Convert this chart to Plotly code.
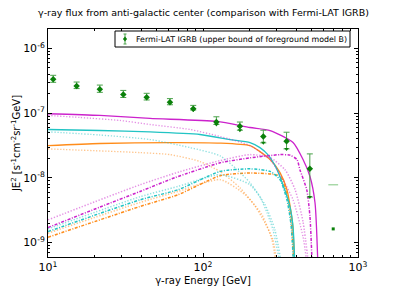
import plotly.graph_objects as go

# ---------------- data ----------------
# Fermi-LAT IGRB points
igrb_E = [10.8, 15.3, 21.6, 30.6, 43.3, 61.2, 86.5, 122, 173, 245, 346, 489]
igrb_F = [3.34e-7, 2.63e-7, 2.34e-7, 1.95e-7, 1.77e-7, 1.48e-7, 1.17e-7, 7.3e-8, 6.3e-8, 4.36e-8, 3.69e-8, 1.39e-8]
igrb_hi = [3.85e-7, 3.03e-7, 2.72e-7, 2.25e-7, 2.03e-7, 1.68e-7, 1.32e-7, 8.8e-8, 7.3e-8, 5.46e-8, 5.08e-8, 2.35e-8]
igrb_lo = [3.0e-7, 2.4e-7, 2.1e-7, 1.75e-7, 1.6e-7, 1.35e-7, 1.12e-7, 6.7e-8, 5.46e-8, 3.48e-8, 2.81e-8, 5.06e-9]
igrb_last_E = [692]
igrb_last_F = [1.63e-9]
igrb_last_cap = [7.85e-9]
legend_label = "Fermi-LAT IGRB (upper bound of foreground model B)"

# magenta model
mag_solid_E = [10, 21.6, 45.5, 123, 201, 271, 381, 442, 490, 528, 552]
mag_solid_F = [9.8e-8, 9.23e-8, 8.29e-8, 7.45e-8, 6.01e-8, 5.4e-8, 3.52e-8, 1.92e-8, 1.05e-8, 4.13e-9, 4e-10]
mag_sdot_E = [10, 16.1, 29.2, 45.5, 82.4, 129, 201, 271, 328, 381, 442, 472]
mag_sdot_F = [9.23e-8, 8.59e-8, 7.72e-8, 6.69e-8, 5.6e-8, 4.36e-8, 3.16e-8, 1.92e-8, 9.4e-9, 4.59e-9, 1.23e-9, 4e-10]
mag_rise_E = [10, 21.6, 39.3, 65.9, 129, 201, 314, 364, 404, 422, 467, 490, 507]
mag_rise_F = [1.71e-9, 3.54e-9, 6.18e-9, 1.01e-8, 1.71e-8, 2.04e-8, 2.29e-8, 2.25e-8, 1.92e-8, 1.34e-8, 6.57e-9, 2.51e-9, 4e-10]
mag_rdot_E = [10, 39.3, 71.1, 129, 201, 271, 338, 393, 442, 483]
mag_rdot_F = [2.25e-9, 7.85e-9, 1.25e-8, 1.85e-8, 2.29e-8, 2.06e-8, 1.34e-8, 6.57e-9, 2.09e-9, 4e-10]

# cyan model
cya_solid_E = [10, 21.6, 45.5, 95.7, 149, 201, 233, 262, 296, 328, 364, 381, 392]
cya_solid_F = [5.6e-8, 5.4e-8, 5.15e-8, 4.69e-8, 3.92e-8, 3.52e-8, 2.94e-8, 2.29e-8, 1.44e-8, 7.85e-9, 3.58e-9, 1.75e-9, 4e-10]
cya_sdot_E = [10, 21.6, 45.5, 82.4, 129, 166, 201, 233, 259, 283, 318]
cya_sdot_F = [5.16e-8, 4.6e-8, 3.92e-8, 2.94e-8, 2.19e-8, 1.34e-8, 8.44e-9, 5.12e-9, 2.89e-9, 1.57e-9, 4e-10]
cya_rise_E = [10, 39.3, 69, 129, 201, 271, 314, 348, 370, 385]
cya_rise_F = [1.48e-9, 4.59e-9, 6.57e-9, 1.26e-8, 1.38e-8, 1.26e-8, 9.4e-9, 4.59e-9, 1.88e-9, 4e-10]
cya_rdot_E = [10, 39.3, 69, 129, 201, 251, 291, 324]
cya_rdot_F = [1.63e-9, 5.12e-9, 7.39e-9, 1.12e-8, 7.85e-9, 3.85e-9, 1.57e-9, 4e-10]

# orange model
ora_solid_E = [10, 21.6, 61.3, 129, 201, 233, 271, 314, 348, 378, 390]
ora_solid_F = [3.16e-8, 3.4e-8, 3.52e-8, 3.46e-8, 3.16e-8, 2.55e-8, 1.92e-8, 1.21e-8, 6.57e-9, 2.02e-9, 4e-10]
ora_sdot_E = [10, 39.3, 61.3, 95.7, 129, 173, 216, 251, 283, 303]
ora_sdot_F = [2.81e-8, 2.46e-8, 2.29e-8, 1.79e-8, 1.25e-8, 7.06e-9, 3.71e-9, 2.02e-9, 1.1e-9, 4e-10]
ora_rise_E = [10, 39.3, 69, 129, 201, 314, 348, 370, 387]
ora_rise_F = [1.21e-9, 3.62e-9, 5.5e-9, 1.08e-8, 1.19e-8, 1.06e-8, 5.5e-9, 2.25e-9, 4e-10]
ora_rdot_E = [10, 39.3, 69, 129, 187, 240, 279, 298]
ora_rdot_F = [1.4e-9, 4.18e-9, 6.18e-9, 9.4e-9, 5.5e-9, 2.69e-9, 1.1e-9, 4e-10]

x_ticks = [10, 100, 1000]
x_ticktext = ["10<sup>1</sup>", "10<sup>2</sup>", "10<sup>3</sup>"]
y_ticks = [1e-9, 1e-8, 1e-7, 1e-6]
y_ticktext = ["10<sup>-9</sup>", "10<sup>-8</sup>", "10<sup>-7</sup>", "10<sup>-6</sup>"]

MAG = "#cc22cc"
CYA = "#22c4c4"
ORA = "#ff8c1a"
GRN = "#0a800a"
ERRC = "#4aa24a"

fig = go.Figure()

def add_line(E, F, color, dash, width, opacity):
    fig.add_trace(go.Scatter(x=E, y=F, mode="lines", showlegend=False,
                             line=dict(color=color, dash=dash, width=width, shape="spline", smoothing=0.6),
                             opacity=opacity, hoverinfo="skip"))

DASHDOT = "3px,1.5px,1px,1.5px"
FINEDOT = "1.3px,1.7px"
for col, sdot, rdot, rise, solid in [
    (ORA, (ora_sdot_E, ora_sdot_F), (ora_rdot_E, ora_rdot_F), (ora_rise_E, ora_rise_F), (ora_solid_E, ora_solid_F)),
    (CYA, (cya_sdot_E, cya_sdot_F), (cya_rdot_E, cya_rdot_F), (cya_rise_E, cya_rise_F), (cya_solid_E, cya_solid_F)),
    (MAG, (mag_sdot_E, mag_sdot_F), (mag_rdot_E, mag_rdot_F), (mag_rise_E, mag_rise_F), (mag_solid_E, mag_solid_F)),
]:
    add_line(*sdot, col, FINEDOT, 1.3, 0.5)
    add_line(*rdot, col, FINEDOT, 1.5, 0.5)
    add_line(*rise, col, DASHDOT, 1.5, 1.0)
    add_line(*solid, col, "solid", 1.3, 1.0)

# IGRB points
fig.add_trace(go.Scatter(
    x=igrb_E, y=igrb_F, mode="markers", name=legend_label, showlegend=False,
    marker=dict(symbol="diamond", size=5, color=GRN),
    error_y=dict(type="data", symmetric=False,
                 array=[h - f for h, f in zip(igrb_hi, igrb_F)],
                 arrayminus=[f - l for f, l in zip(igrb_F, igrb_lo)],
                 color=ERRC, thickness=1, width=3)))
fig.add_trace(go.Scatter(
    x=igrb_E[6:], y=igrb_lo[6:], mode="markers", showlegend=False,
    marker=dict(symbol="triangle-down", size=4, color=GRN)))
fig.add_trace(go.Scatter(
    x=igrb_last_E, y=igrb_last_F, mode="markers", showlegend=False,
    marker=dict(symbol="square", size=3, color=GRN)))
fig.add_trace(go.Scatter(
    x=igrb_last_E, y=igrb_last_cap, mode="markers", showlegend=False,
    marker=dict(symbol="line-ew", size=7, line=dict(color="#a8d8a8", width=1.5))))

minor_vals = [m * 10 ** d for d in range(1, 3) for m in range(2, 10)]
minor_y = [m * 10.0 ** d for d in range(-10, -5) for m in range(2, 10)]

axis_common = dict(showline=True, linecolor="black", linewidth=1, mirror="allticks",
                   ticks="inside", ticklen=4, tickcolor="black", showgrid=False, zeroline=False,
                   automargin=False,
                   tickfont=dict(family="DejaVu Sans", size=11, color="black"))

fig.update_xaxes(type="log", range=[1, 3], tickvals=x_ticks, ticktext=x_ticktext,
                 minor=dict(tickvals=minor_vals, ticks="inside", ticklen=2, tickcolor="black", showgrid=False),
                 title=dict(text="γ-ray Energy [GeV]", font=dict(family="DejaVu Sans", size=10, color="black"), standoff=4),
                 **axis_common)
fig.update_yaxes(type="log", range=[-9.222, -5.699], tickvals=y_ticks, ticktext=y_ticktext,
                 minor=dict(tickvals=minor_y, ticks="inside", ticklen=2, tickcolor="black", showgrid=False),
                 title=dict(text="JE<sup>2</sup> [s<sup>-1</sup>cm<sup>-2</sup>sr<sup>-1</sup>GeV]",
                            font=dict(family="DejaVu Sans", size=10, color="black"), standoff=0),
                 **axis_common)

# manual legend box (paper coordinates of the plot area)
W, H = 310.0, 228.0
def px(x):
    return (x - 48) / W
def py(y):
    return (257 - y) / H

shapes = [
    dict(type="rect", xref="paper", yref="paper", x0=px(115), x1=px(350), y0=py(47), y1=py(31),
         line=dict(color="black", width=1), fillcolor="white", layer="above"),
    dict(type="line", xref="paper", yref="paper", x0=px(125), x1=px(125), y0=py(44), y1=py(34),
         line=dict(color=ERRC, width=1), layer="above"),
    dict(type="line", xref="paper", yref="paper", x0=px(123.5), x1=px(126.5), y0=py(34), y1=py(34),
         line=dict(color=ERRC, width=1), layer="above"),
    dict(type="line", xref="paper", yref="paper", x0=px(123.5), x1=px(126.5), y0=py(44), y1=py(44),
         line=dict(color=ERRC, width=1), layer="above"),
    dict(type="path", xref="paper", yref="paper",
         path="M {a},{m} L {c},{t} L {b},{m} L {c},{u} Z".format(a=px(123.2), b=px(126.8), c=px(125),
                                                             m=py(39), t=py(36.8), u=py(41.2)),
         line=dict(color=GRN, width=0.5), fillcolor=GRN, layer="above"),
]
annotations = [
    dict(text=legend_label, xref="paper", yref="paper", x=px(134), y=py(39),
         xanchor="left", yanchor="middle", showarrow=False,
         font=dict(family="DejaVu Sans", size=7.9, color="black")),
]

fig.update_layout(
    width=407, height=286,
    margin=dict(l=48, r=49, t=29, b=29, autoexpand=False),
    paper_bgcolor="white", plot_bgcolor="white",
    title=dict(text="γ-ray flux from anti-galactic center (comparison with Fermi-LAT IGRB)",
               x=0.5, xanchor="center", y=0.955, yanchor="middle",
               font=dict(family="DejaVu Sans", size=9.5, color="black")),
    shapes=shapes, annotations=annotations,
    showlegend=False,
)

fig.write_html("out.html", config={"displayModeBar": False},
               post_script="document.body.style.margin='0';document.body.style.overflow='hidden';")
